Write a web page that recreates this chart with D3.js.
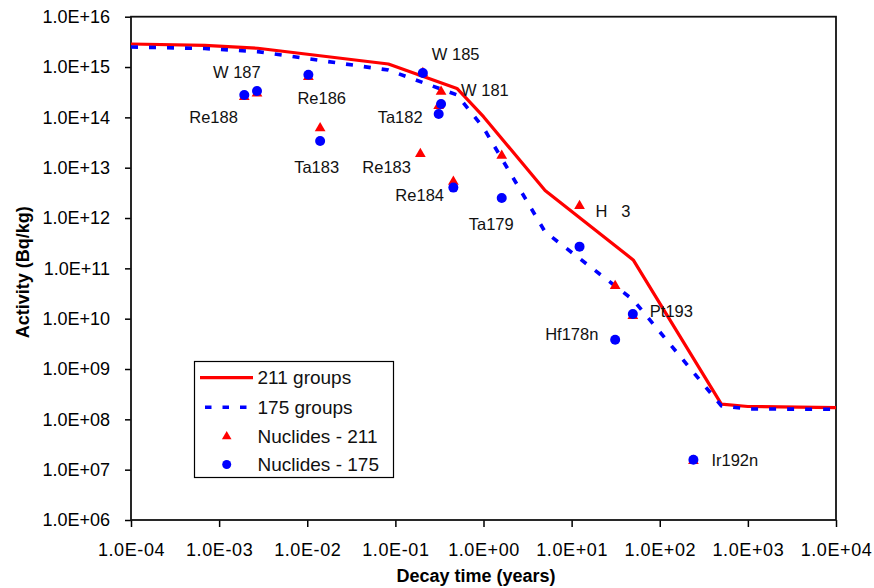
<!DOCTYPE html>
<html>
<head>
<meta charset="utf-8">
<script src="https://cdn.jsdelivr.net/npm/d3@7"></script>
<style>
  html, body { margin: 0; padding: 0; background: #fff; }
  svg { display: block; font-family: 'Liberation Sans', Arial, sans-serif; }
</style>
</head>
<body>
<div id="chart"></div>
<script>
// Activity vs decay time, two group structures + selected nuclides.

// group totals (years -> Bq/kg)
const groupTimes = [1e-4, 6.85e-4, 2.74e-3, 0.0833, 0.5, 1, 5, 50, 500, 1000, 1e4];
const groups211 = [2.87e15, 2.70e15, 2.36e15, 1.15e15, 3.75e14, 1.03e14, 3.53e12, 1.47e11, 2.0e8, 1.8e8, 1.71e8];
const groups175 = [2.50e15, 2.33e15, 2.02e15, 8.7e14, 2.79e14, 6.2e13, 5.3e11, 2.36e10, 1.85e8, 1.61e8, 1.58e8];

// individual nuclides (x = half-life in years)
const nuclideNames = ['Re188', 'W 187', 'Re186', 'Ta183', 'Re183', 'W 185', 'W 181', 'Ta182',
                      'Re184', 'Ta179', 'H   3', 'Hf178n', 'Pt193', 'Ir192n'];
const nuclideTimes = [1.93e-3, 2.69e-3, 1.03e-2, 1.40e-2, 0.192, 0.205, 0.33, 0.31,
                      0.455, 1.61, 12.3, 31.2, 49.5, 241];
const nuclides211 = [2.55e14, 2.99e14, 6.4e14, 6.07e13, 1.87e13, 7.6e14, 3.24e14, 1.68e14,
                     5.28e12, 1.73e13, 1.74e12, 4.48e10, 1.13e10, 1.5e7];
const nuclides175 = [2.79e14, 3.34e14, 7.05e14, 3.40e13, null, 7.6e14, 1.85e14, 1.17e14,
                     4.02e12, 2.5e12, 2.7e11, 3.8e9, 1.24e10, 1.57e7];
// which series the label sits next to, and its pixel offset from that marker
const labelSeries = ['175', '175', '175', '175', '211', '175', '211', '175',
                     '175', '175', '211', '175', '175', '175'];
const labelOffsets = [[-55, 22], [-44, -19], [-11, 24], [-26, 26], [-58, 13], [9, -19], [20, -1], [-61, 3],
                      [-58, 8], [-33, 26], [16, 5], [-70, -6], [17, -3], [18, 0]];

const xTicks = [1e-4, 1e-3, 1e-2, 1e-1, 1e0, 1e1, 1e2, 1e3, 1e4];
const yTicks = [1e6, 1e7, 1e8, 1e9, 1e10, 1e11, 1e12, 1e13, 1e14, 1e15, 1e16];

const legendLabels = ['211 groups', '175 groups', 'Nuclides - 211', 'Nuclides - 175'];

const RED = '#ff0000';
const BLUE = '#0000ff';
const W = 874, H = 588;
const plot = { left: 131, right: 836, top: 16.7, bottom: 520 };

function sci(v) {
  const e = Math.round(Math.log10(v));
  const sign = e < 0 ? '-' : '+';
  return '1.0E' + sign + String(Math.abs(e)).padStart(2, '0');
}

const svg = d3.select('#chart').append('svg')
  .attr('width', W).attr('height', H);

const x = d3.scaleLog().domain([1e-4, 1e4]).range([plot.left, plot.right]);
const y = d3.scaleLog().domain([1e6, 1e16]).range([plot.bottom, plot.top]);

// axes
const yAxis = svg.append('g')
  .attr('transform', `translate(${plot.left},0)`)
  .call(d3.axisLeft(y).tickValues(yTicks).tickFormat(sci).tickSize(6).tickPadding(15));
const xAxis = svg.append('g')
  .attr('transform', `translate(0,${plot.bottom})`)
  .call(d3.axisBottom(x).tickValues(xTicks).tickFormat(sci).tickSize(7).tickPadding(16));

[yAxis, xAxis].forEach(a => {
  a.select('.domain').remove();
  a.selectAll('.tick line').attr('stroke', '#000').attr('stroke-width', 1.5);
  a.selectAll('.tick text')
    .attr('fill', '#000')
    .attr('font-family', "'Liberation Sans', Arial, sans-serif")
    .attr('font-size', 18);
});
xAxis.selectAll('.tick text').attr('letter-spacing', '0.6px');

// plot frame
svg.append('rect')
  .attr('x', plot.left).attr('y', plot.top)
  .attr('width', plot.right - plot.left).attr('height', plot.bottom - plot.top)
  .attr('fill', 'none').attr('stroke', '#111').attr('stroke-width', 1.8);

// axis titles
svg.append('text')
  .attr('transform', `translate(29,${(plot.top + plot.bottom) / 2 + 4}) rotate(-90)`)
  .attr('text-anchor', 'middle')
  .attr('font-size', 18).attr('font-weight', 'bold')
  .text('Activity (Bq/kg)');
svg.append('text')
  .attr('x', 476).attr('y', 582)
  .attr('text-anchor', 'middle')
  .attr('font-size', 18).attr('font-weight', 'bold')
  .text('Decay time (years)');

// group curves
const line = d3.line().x(d => x(d[0])).y(d => y(d[1]));
svg.append('path')
  .datum(d3.zip(groupTimes, groups211))
  .attr('d', line)
  .attr('fill', 'none').attr('stroke', RED).attr('stroke-width', 3.2)
  .attr('stroke-linejoin', 'round');
svg.append('path')
  .datum(d3.zip(groupTimes, groups175))
  .attr('d', line)
  .attr('fill', 'none').attr('stroke', BLUE).attr('stroke-width', 3.6)
  .attr('stroke-dasharray', '7,11');

// nuclide markers: triangles (211) under circles (175)
const tri = d3.symbol().type(d3.symbolTriangle).size(50);
const idx = d3.range(nuclideNames.length);

svg.append('g').selectAll('path')
  .data(idx.filter(i => nuclides211[i] != null))
  .join('path')
  .attr('d', tri)
  .attr('transform', i => `translate(${x(nuclideTimes[i])},${y(nuclides211[i])})`)
  .attr('fill', RED);

svg.append('g').selectAll('circle')
  .data(idx.filter(i => nuclides175[i] != null))
  .join('circle')
  .attr('cx', i => x(nuclideTimes[i]))
  .attr('cy', i => y(nuclides175[i]))
  .attr('r', 5)
  .attr('fill', BLUE);

// nuclide labels
svg.append('g').selectAll('text')
  .data(idx)
  .join('text')
  .attr('x', i => x(nuclideTimes[i]) + labelOffsets[i][0])
  .attr('y', i => y(labelSeries[i] === '211' ? nuclides211[i] : nuclides175[i]) + labelOffsets[i][1])
  .attr('dy', '0.35em')
  .attr('font-size', 16.5)
  .attr('fill', '#111')
  .style('white-space', 'pre')
  .text(i => nuclideNames[i]);

// legend
const lg = svg.append('g');
lg.append('rect')
  .attr('x', 194.5).attr('y', 361.5).attr('width', 199).attr('height', 116)
  .attr('fill', '#fff').attr('stroke', '#000').attr('stroke-width', 1.2);
const rowY = [377.7, 407.3, 436.5, 464.5];
lg.append('line')
  .attr('x1', 200).attr('x2', 253).attr('y1', rowY[0]).attr('y2', rowY[0])
  .attr('stroke', RED).attr('stroke-width', 3.2);
lg.append('line')
  .attr('x1', 205).attr('x2', 253).attr('y1', rowY[1]).attr('y2', rowY[1])
  .attr('stroke', BLUE).attr('stroke-width', 3.6).attr('stroke-dasharray', '6.5,11');
lg.append('path')
  .attr('d', d3.symbol().type(d3.symbolTriangle).size(40)())
  .attr('transform', `translate(226.7,${rowY[2]})`)
  .attr('fill', RED);
lg.append('circle')
  .attr('cx', 226.7).attr('cy', rowY[3]).attr('r', 4.5)
  .attr('fill', BLUE);
lg.selectAll('text.lab')
  .data(legendLabels)
  .join('text')
  .attr('class', 'lab')
  .attr('x', 257.5)
  .attr('y', (d, i) => rowY[i])
  .attr('dy', '0.35em')
  .attr('font-size', 19)
  .attr('fill', '#111')
  .text(d => d);
</script>
</body>
</html>
